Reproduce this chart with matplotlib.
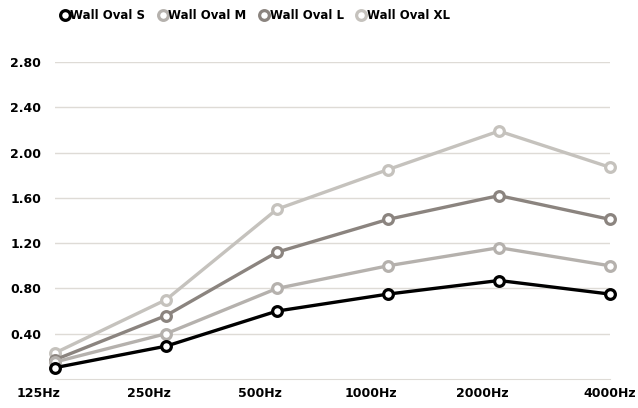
import matplotlib
matplotlib.use("Agg")
import matplotlib.pyplot as plt
from matplotlib.transforms import ScaledTranslation

categories = ["125Hz", "250Hz", "500Hz", "1000Hz", "2000Hz", "4000Hz"]
series_names = ["Wall Oval S", "Wall Oval M", "Wall Oval L", "Wall Oval XL"]
wall_oval_s = [0.10, 0.29, 0.60, 0.75, 0.87, 0.75]
wall_oval_m = [0.15, 0.40, 0.80, 1.00, 1.16, 1.00]
wall_oval_l = [0.17, 0.56, 1.12, 1.41, 1.62, 1.41]
wall_oval_xl = [0.23, 0.70, 1.50, 1.85, 2.19, 1.87]
y_ticks = [0.40, 0.80, 1.20, 1.60, 2.00, 2.40, 2.80]
colors = ["#000000", "#b5b1ad", "#8b847f", "#c5c2bd"]

plt.rcParams['font.family'] = ['DejaVu Sans']
fig = plt.figure(figsize=(6.38, 4.08), dpi=100)
ax = fig.add_axes([55/638, 1-379/408, (610-55)/638, (379-62)/408])

x = list(range(len(categories)))
data = [wall_oval_s, wall_oval_m, wall_oval_l, wall_oval_xl]
handles = {}
for i in [3, 2, 1, 0]:
    h, = ax.plot(x, data[i], color=colors[i], lw=2.4, marker='o', markersize=7,
                 markerfacecolor='white', markeredgecolor=colors[i], markeredgewidth=2.3,
                 clip_on=False, zorder=3 + (3 - i), label=series_names[i])
    handles[i] = h

ax.set_xlim(0, 5)
ax.set_ylim(0, 2.8)
ax.set_yticks(y_ticks)
ax.set_yticklabels([f"{v:.2f}" for v in y_ticks], fontsize=9, fontweight='bold')
ax.set_xticks(x)
ax.set_xticklabels(categories, fontsize=9, fontweight='bold')
ax.grid(axis='y', color='#dedbd6', lw=1)
ax.set_axisbelow(True)
for s in ['top', 'right', 'left']:
    ax.spines[s].set_visible(False)
ax.spines['bottom'].set_color('#dedbd6')
ax.tick_params(axis='both', length=0)
ax.tick_params(axis='y', pad=10)
ax.tick_params(axis='x', pad=6)
for i, lbl in enumerate(ax.get_xticklabels()):
    dx = -17/100 if i < 5 else 0
    lbl.set_transform(lbl.get_transform() + ScaledTranslation(dx, 0, fig.dpi_scale_trans))

fig.legend([handles[i] for i in range(4)], series_names, loc='upper left',
           bbox_to_anchor=(52/638, 1.0), ncol=4, frameon=False,
           prop={'weight': 'bold', 'size': 8.5}, handlelength=0.6, handletextpad=0.15,
           columnspacing=1.2, borderaxespad=0.4)

fig.savefig("out.png", dpi=100)
